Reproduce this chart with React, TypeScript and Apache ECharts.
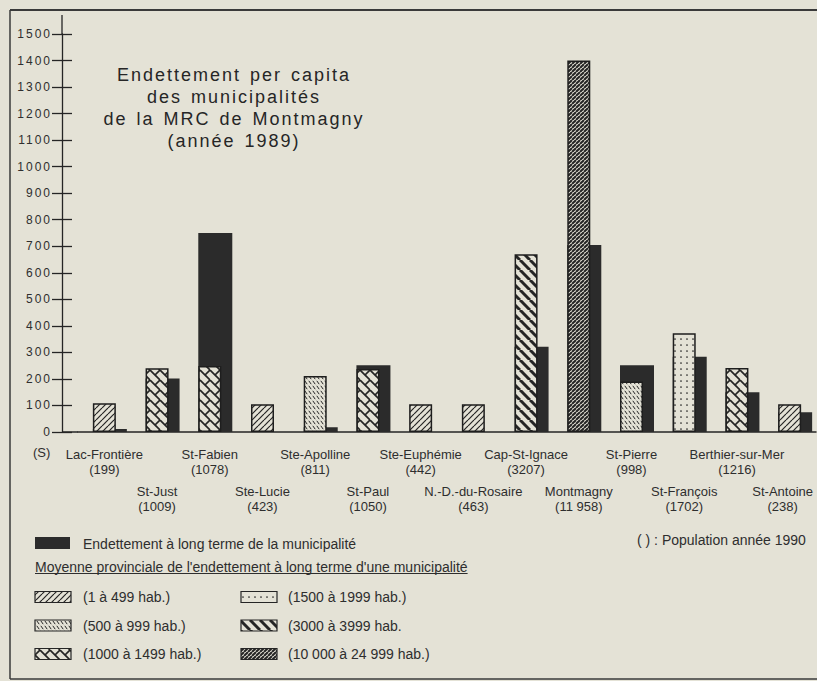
import React, { useEffect, useRef } from "react";
import * as echarts from "echarts";

const municipalities = [
  "Lac-Frontière", "St-Just", "St-Fabien", "Ste-Lucie", "Ste-Apolline", "St-Paul", "Ste-Euphémie",
  "N.-D.-du-Rosaire", "Cap-St-Ignace", "Montmagny", "St-Pierre", "St-François", "Berthier-sur-Mer", "St-Antoine",
];
const populationLabels = ["199", "1009", "1078", "423", "811", "1050", "442", "463", "3207", "11 958", "998", "1702", "1216", "238"];
const population = [199, 1009, 1078, 423, 811, 1050, 442, 463, 3207, 11958, 998, 1702, 1216, 238];
const municipalDebt = [11, 202, 750, 0, 18, 252, 0, 0, 321, 705, 252, 284, 150, 74];
const provincialAverage = [108, 240, 249, 105, 211, 237, 105, 105, 670, 1400, 190, 372, 241, 105];
const classMinPopulation = [1, 500, 1000, 1500, 3000, 10000];
const classLabels = [
  "(1 à 499 hab.)", "(500 à 999 hab.)", "(1000 à 1499 hab.)",
  "(1500 à 1999 hab.)", "(3000 à 3999 hab.", "(10 000 à 24 999 hab.)",
];
const yMin = 0;
const yMax = 1500;
const yInterval = 100;

const titleText = "Endettement per capita\ndes municipalités\nde la MRC de Montmagny\n(année 1989)";
const debtLegend = "Endettement à long terme de la municipalité";
const averageLegend = "Moyenne provinciale de l'endettement à long terme d'une municipalité";
const populationNote = "( ) : Population année 1990";
const unitLabel = "(S)";

const BG = "#e4e2d6";
const INK = "#252525";
const TEXT = "#2e2e2e";
const FONT = '"Liberation Sans", Arial, Helvetica, sans-serif';

function classOf(pop: number) {
  let c = 0;
  classMinPopulation.forEach((m, i) => { if (pop >= m) c = i; });
  return c;
}

function tile(w: number, h: number, draw: (c: CanvasRenderingContext2D) => void) {
  const cv = document.createElement("canvas");
  cv.width = w; cv.height = h;
  const c = cv.getContext("2d")!;
  c.fillStyle = BG; c.fillRect(0, 0, w, h);
  c.strokeStyle = INK; c.fillStyle = INK; c.lineCap = "butt";
  draw(c);
  return { image: cv, repeat: "repeat", imageWidth: w, imageHeight: h } as any;
}
function slashes(c: CanvasRenderingContext2D, s: number, w: number) {
  c.lineWidth = w;
  for (const k of [-1, 0, 1, 2]) { c.beginPath(); c.moveTo(k * s, 0); c.lineTo(k * s - s, s); c.stroke(); }
}
function backslashes(c: CanvasRenderingContext2D, s: number, w: number) {
  c.lineWidth = w;
  for (const k of [-1, 0, 1]) { c.beginPath(); c.moveTo(k * s, 0); c.lineTo(k * s + s, s); c.stroke(); }
}

function makePatterns() {
  return [
    tile(6, 6, (c) => slashes(c, 6, 1.2)),
    tile(4, 5, (c) => { c.lineWidth = 1; c.beginPath(); c.moveTo(0.8, 0.8); c.lineTo(3.2, 4.2); c.stroke(); }),
    tile(10, 10, (c) => {
      backslashes(c, 10, 1.7);
      c.beginPath(); c.moveTo(5, 5); c.lineTo(10, 0); c.stroke();
    }),
    tile(6, 6, (c) => { c.beginPath(); c.arc(3, 3, 0.85, 0, Math.PI * 2); c.fill(); }),
    tile(10, 10, (c) => backslashes(c, 10, 3)),
    tile(4, 4, (c) => slashes(c, 4, 2)),
  ];
}

export default function App() {
  const ref = useRef<HTMLDivElement>(null);
  useEffect(() => {
    if (!ref.current) return;
    const chart = echarts.init(ref.current, undefined, { renderer: "svg" });
    const patterns = makePatterns();

    const mctx = document.createElement("canvas").getContext("2d")!;
    mctx.font = `14px ${FONT}`;
    const underlineW = mctx.measureText(averageLegend).width;

    const legendEls: any[] = [];
    classLabels.forEach((lab, i) => {
      const col = i < 3 ? 0 : 1;
      const row = i % 3;
      const sx = [35, 241][col];
      const sy = 591.5 + row * 28.5;
      legendEls.push({
        type: "rect", shape: { x: sx, y: sy, width: 36, height: 11 },
        style: { fill: patterns[i], stroke: INK, lineWidth: 1.2 }, silent: true,
      });
      legendEls.push({
        type: "text", x: [83, 288][col], y: sy + 5.5,
        style: { text: lab, font: `14px ${FONT}`, fill: TEXT, textAlign: "left", textVerticalAlign: "middle", align: "left", verticalAlign: "middle" },
        silent: true,
      });
    });

    const frameStroke = { stroke: "#3a3a3a", lineWidth: 1.5 };
    const lastIndex = municipalities.length - 1;

    const option: any = {
      animation: false,
      backgroundColor: BG,
      grid: { left: 78, right: 1, top: 34, bottom: 249, containLabel: false, outerBoundsMode: "none" },
      xAxis: {
        type: "category",
        data: municipalities,
        axisLine: { lineStyle: { color: INK, width: 1.5 } },
        axisTick: { alignWithLabel: true, length: 14, lineStyle: { color: INK, width: 1.3 } },
        axisLabel: {
          interval: 0,
          margin: 14.5,
          color: TEXT,
          formatter: (value: string, index: number) => {
            const sfx = index === lastIndex ? "e" : "";
            const body = `{n${sfx}|${value}}\n{p${sfx}|(${populationLabels[index]})}`;
            return index % 2 === 0 ? body : `{g| }\n${body}`;
          },
          rich: {
            n: { fontSize: 13, lineHeight: 15, fontFamily: FONT, color: TEXT },
            p: { fontSize: 13, lineHeight: 15, fontFamily: FONT, color: TEXT },
            ne: { fontSize: 13, lineHeight: 15, fontFamily: FONT, color: TEXT, padding: [0, 14, 0, 0] },
            pe: { fontSize: 13, lineHeight: 15, fontFamily: FONT, color: TEXT, padding: [0, 14, 0, 0] },
            g: { fontSize: 13, lineHeight: 37, fontFamily: FONT },
          },
        },
      },
      yAxis: [
        {
          type: "value", min: yMin, max: yMax, interval: yInterval, position: "left", offset: 16,
          axisLine: { show: true, lineStyle: { color: INK, width: 1.3 } },
          axisTick: { show: true, length: 10, lineStyle: { color: INK, width: 1.3 } },
          axisLabel: { margin: 10, fontSize: 12, fontFamily: FONT, color: TEXT, formatter: (v: number) => String(v) },
          splitLine: { show: false },
        },
        {
          type: "value", min: yMin, max: yMax, interval: yInterval, position: "left", offset: 16,
          axisLine: { show: false },
          axisTick: { show: true, inside: true, length: 10, lineStyle: { color: INK, width: 1.3 } },
          axisLabel: { show: false },
          splitLine: { show: false },
        },
      ],
      series: [
        {
          name: debtLegend, type: "bar", yAxisIndex: 0, barWidth: 34, barGap: "-100%",
          data: municipalDebt, itemStyle: { color: "#2b2b2b" }, silent: true,
        },
        {
          name: averageLegend, type: "bar", yAxisIndex: 0, barWidth: 23, barGap: "-100%",
          data: provincialAverage.map((v, i) => ({ value: v, itemStyle: { color: patterns[classOf(population[i])] } })),
          itemStyle: { borderColor: "#1e1e1e", borderWidth: 1.5 }, silent: true,
        },
      ],
      graphic: [
        { type: "line", shape: { x1: 10, y1: 10, x2: 817, y2: 10 }, style: { stroke: "#3a3a3a", lineWidth: 2 }, silent: true },
        { type: "line", shape: { x1: 10, y1: 10, x2: 10, y2: 679 }, style: frameStroke, silent: true },
        { type: "line", shape: { x1: 10, y1: 679, x2: 817, y2: 679 }, style: frameStroke, silent: true },
        { type: "line", shape: { x1: 62, y1: 15, x2: 62, y2: 34 }, style: { stroke: INK, lineWidth: 1.3 }, silent: true },
        { type: "line", shape: { x1: 62, y1: 432, x2: 78, y2: 432 }, style: { stroke: INK, lineWidth: 1.5 }, silent: true },
        {
          type: "text", x: 234, y: 64,
          style: { text: titleText, font: `18px ${FONT}`, fill: "#262626", textAlign: "center", align: "center", textVerticalAlign: "top", verticalAlign: "top", lineHeight: 22 },
          silent: true,
        },
        {
          type: "text", x: 33, y: 452,
          style: { text: unitLabel, font: `13px ${FONT}`, fill: TEXT, textAlign: "left", align: "left", textVerticalAlign: "middle", verticalAlign: "middle" },
          silent: true,
        },
        { type: "rect", shape: { x: 35, y: 537, width: 35, height: 12 }, style: { fill: "#2b2b2b" }, silent: true },
        {
          type: "text", x: 83, y: 544,
          style: { text: debtLegend, font: `14px ${FONT}`, fill: TEXT, textAlign: "left", align: "left", textVerticalAlign: "middle", verticalAlign: "middle" },
          silent: true,
        },
        {
          type: "text", x: 35, y: 567,
          style: { text: averageLegend, font: `14px ${FONT}`, fill: TEXT, textAlign: "left", align: "left", textVerticalAlign: "middle", verticalAlign: "middle" },
          silent: true,
        },
        { type: "line", shape: { x1: 35, y1: 573.5, x2: 35 + underlineW, y2: 573.5 }, style: { stroke: TEXT, lineWidth: 1 }, silent: true },
        {
          type: "text", x: 637, y: 540,
          style: { text: populationNote, font: `14px ${FONT}`, fill: TEXT, textAlign: "left", align: "left", textVerticalAlign: "middle", verticalAlign: "middle" },
          silent: true,
        },
        ...legendEls,
      ],
    };
    chart.setOption(option);
    return () => chart.dispose();
  }, []);

  const css = `#chart-wrap svg text[style*="18px"]{letter-spacing:2px;word-spacing:2px}
#chart-wrap svg text[style*="12px"]{letter-spacing:2px}`;

  return (
    <div id="chart-wrap" style={{ position: "fixed", left: 0, top: 0, width: 817, height: 681, background: BG, overflow: "hidden" }}>
      <style>{css}</style>
      <div ref={ref} style={{ width: 817, height: 681 }} />
    </div>
  );
}
